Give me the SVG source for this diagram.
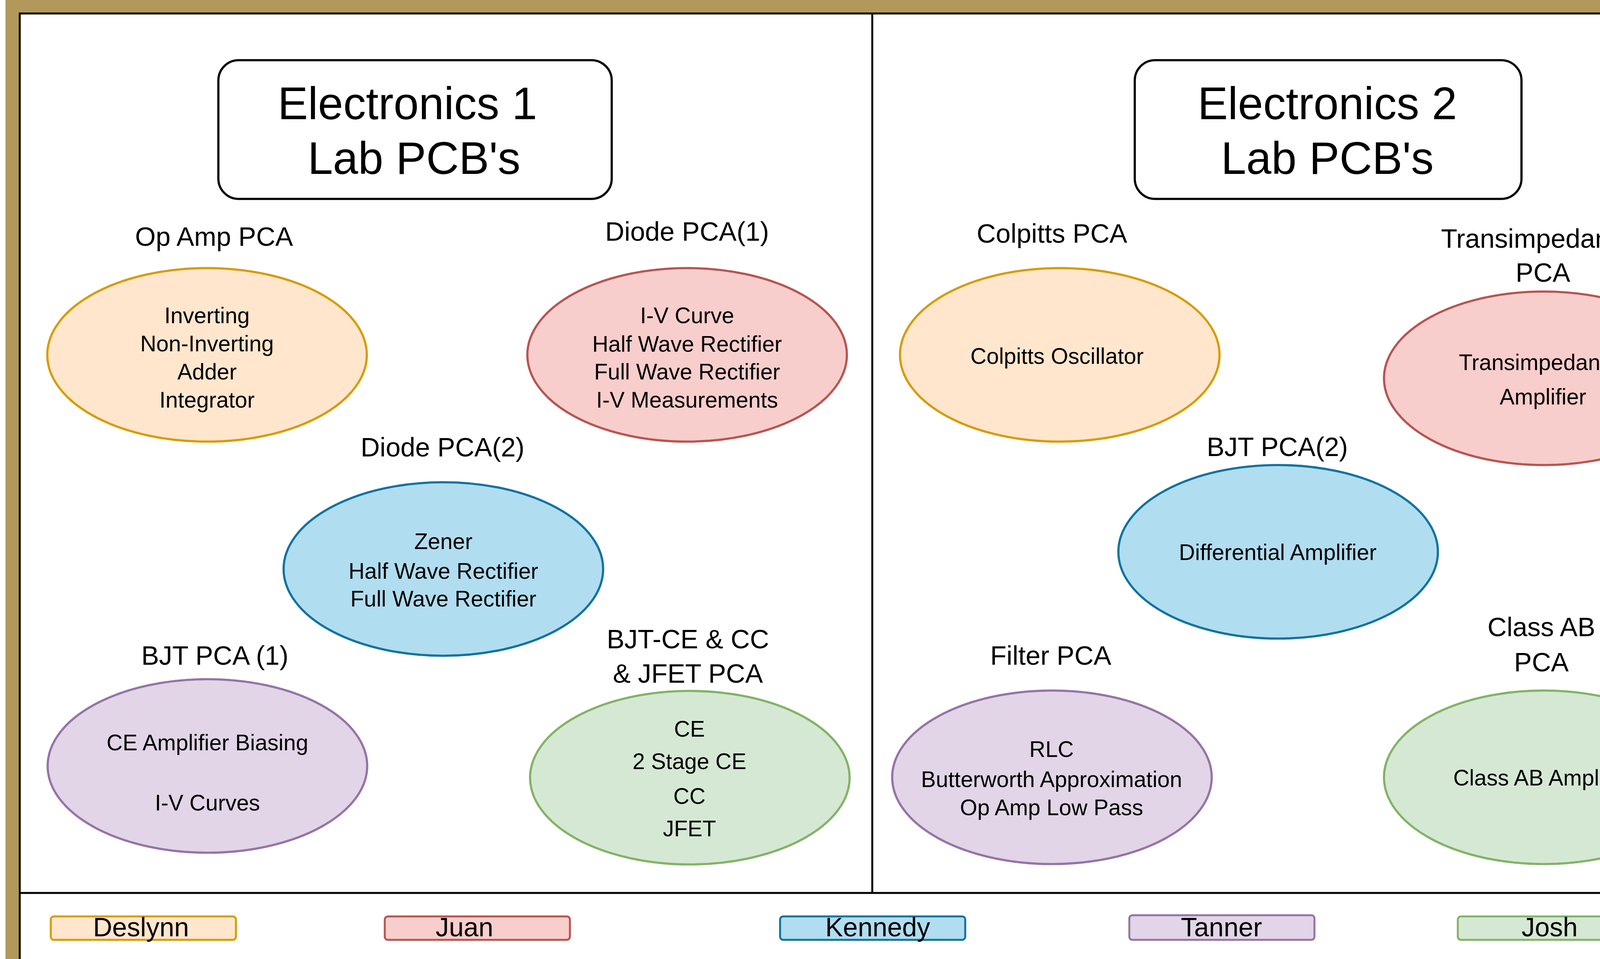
<svg xmlns="http://www.w3.org/2000/svg" width="4408" height="2454" viewBox="0 0 4408 2454" overflow="hidden">
<style>
text{font-family:"Liberation Sans",Arial,sans-serif;fill:#000;text-anchor:middle}
.t{font-size:116px}
.l{font-size:68px}
.i{font-size:57px}
.g{font-size:68px}
.e{stroke-width:5.6}
.or{fill:#ffe6cc;stroke:#d79b00}
.rd{fill:#f8cecc;stroke:#b85450}
.bl{fill:#b1ddf0;stroke:#10739e}
.pu{fill:#e1d5e7;stroke:#9673a6}
.gr{fill:#d5e8d4;stroke:#82b366}
.lg{stroke-width:5}
.fl{stroke:#000;stroke-width:5;fill:none}
</style>
<rect x="0" y="0" width="4408" height="2454" fill="#fff"/>
<g id="frame">
<rect x="14" y="0" width="4394" height="2454" fill="#b3985c"/>
<rect x="50.5" y="34.5" width="4357.5" height="2419.5" fill="#fff"/>
<path class="fl" d="M50.5 2454 V34.5 H4408"/>
<line class="fl" x1="2233" y1="37" x2="2233" y2="2285"/>
<line class="fl" x1="53" y1="2285" x2="4408" y2="2285"/>
</g>
<g id="title1">
<rect x="559" y="154" width="1007" height="355" rx="52" fill="#fff" stroke="#000" stroke-width="5.6"/>
<text class="t" x="1043" y="305">Electronics 1</text>
<text class="t" x="1060" y="445">Lab PCB's</text>
</g>
<g id="title2">
<rect x="2905" y="154" width="990" height="355" rx="52" fill="#fff" stroke="#000" stroke-width="5.6"/>
<text class="t" x="3398" y="305">Electronics 2</text>
<text class="t" x="3398" y="445">Lab PCB's</text>
</g>
<g id="opamp">
<text class="l" x="548" y="629">Op Amp PCA</text>
<ellipse class="e or" cx="530" cy="908" rx="409" ry="222"/>
<text class="i" x="530" y="827">Inverting</text>
<text class="i" x="530" y="899">Non-Inverting</text>
<text class="i" x="530" y="971">Adder</text>
<text class="i" x="530" y="1043">Integrator</text>
</g>
<g id="diode1">
<text class="l" x="1759" y="616">Diode PCA(1)</text>
<ellipse class="e rd" cx="1759" cy="908" rx="409" ry="222"/>
<text class="i" x="1759" y="827">I-V Curve</text>
<text class="i" x="1759" y="900">Half Wave Rectifier</text>
<text class="i" x="1759" y="971">Full Wave Rectifier</text>
<text class="i" x="1759" y="1043">I-V Measurements</text>
</g>
<g id="diode2">
<text class="l" x="1133" y="1168">Diode PCA(2)</text>
<ellipse class="e bl" cx="1135" cy="1456" rx="409" ry="222"/>
<text class="i" x="1135" y="1405">Zener</text>
<text class="i" x="1135" y="1481">Half Wave Rectifier</text>
<text class="i" x="1135" y="1552">Full Wave Rectifier</text>
</g>
<g id="bjt1">
<text class="l" x="550" y="1701">BJT PCA (1)</text>
<ellipse class="e pu" cx="531" cy="1960" rx="409" ry="222"/>
<text class="i" x="531" y="1920">CE Amplifier Biasing</text>
<text class="i" x="531" y="2074">I-V Curves</text>
</g>
<g id="bjtce">
<text class="l" x="1761" y="1659">BJT-CE &amp; CC</text>
<text class="l" x="1761" y="1747">&amp; JFET PCA</text>
<ellipse class="e gr" cx="1766" cy="1990" rx="409" ry="222"/>
<text class="i" x="1765" y="1885">CE</text>
<text class="i" x="1765" y="1968">2 Stage CE</text>
<text class="i" x="1765" y="2057">CC</text>
<text class="i" x="1765" y="2140">JFET</text>
</g>
<g id="colpitts">
<text class="l" x="2693" y="621">Colpitts PCA</text>
<ellipse class="e or" cx="2713" cy="908" rx="409" ry="222"/>
<text class="i" x="2706" y="931">Colpitts Oscillator</text>
</g>
<g id="transimp">
<text class="l" x="3941" y="634">Transimpedance</text>
<text class="l" x="3950" y="721">PCA</text>
<ellipse class="e rd" cx="3952" cy="968" rx="409" ry="222"/>
<text class="i" x="3946" y="947">Transimpedance</text>
<text class="i" x="3950" y="1035">Amplifier</text>
</g>
<g id="bjt2">
<text class="l" x="3270" y="1167">BJT PCA(2)</text>
<ellipse class="e bl" cx="3272" cy="1412" rx="409" ry="222"/>
<text class="i" x="3271" y="1433">Differential Amplifier</text>
</g>
<g id="filter">
<text class="l" x="2690" y="1701">Filter PCA</text>
<ellipse class="e pu" cx="2693" cy="1989" rx="409" ry="222"/>
<text class="i" x="2692" y="1937">RLC</text>
<text class="i" x="2692" y="2014">Butterworth Approximation</text>
<text class="i" x="2692" y="2086">Op Amp Low Pass</text>
</g>
<g id="classab">
<text class="l" x="3946" y="1628">Class AB</text>
<text class="l" x="3946" y="1718">PCA</text>
<ellipse class="e gr" cx="3952" cy="1989" rx="409" ry="222"/>
<text class="i" x="3953" y="2010">Class AB Amplifier</text>
</g>
<g id="legend">
<g id="leg-deslynn"><rect class="lg or" x="130" y="2345" width="474" height="60" rx="8"/><text class="g" x="361" y="2396">Deslynn</text></g>
<g id="leg-juan"><rect class="lg rd" x="985" y="2345" width="474" height="60" rx="8"/><text class="g" x="1189" y="2396">Juan</text></g>
<g id="leg-kennedy"><rect class="lg bl" x="1997" y="2345" width="474" height="60" rx="8"/><text class="g" x="2247" y="2396">Kennedy</text></g>
<g id="leg-tanner"><rect class="lg pu" x="2891" y="2342" width="474" height="63" rx="8"/><text class="g" x="3127" y="2396">Tanner</text></g>
<g id="leg-josh"><rect class="lg gr" x="3732" y="2345" width="474" height="60" rx="8"/><text class="g" x="3967" y="2396">Josh</text></g>
</g>
<g id="connectors"></g>
</svg>
